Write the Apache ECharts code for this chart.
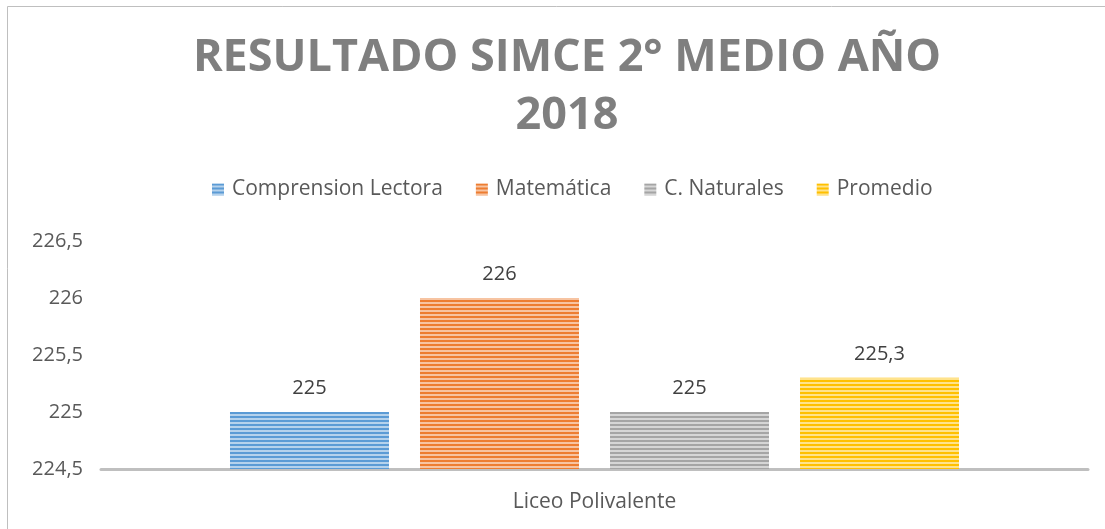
<!DOCTYPE html>
<html>
<head>
<meta charset="utf-8">
<script src="https://cdn.jsdelivr.net/npm/echarts@6/dist/echarts.min.js"></script>
<style>
  html, body { margin: 0; padding: 0; background: #fff; }
  #chart { width: 1105px; height: 529px; }
</style>
</head>
<body>
<div id="chart"></div>
<script>
// datos del grafico
var categories = ["Liceo Polivalente"];
var seriesNames = ["Comprension Lectora", "Matemática", "C. Naturales", "Promedio"];
var seriesValues = [[225], [226], [225], [225.3]];
var seriesColors = ["#5b9bd5", "#ed7d31", "#a5a5a5", "#ffc000"];
var yTicks = [224.5, 225, 225.5, 226, 226.5];

// rayado horizontal de las barras
function stripes(color) {
  var c = document.createElement("canvas");
  c.width = 4;
  c.height = 4;
  var ctx = c.getContext("2d");
  ctx.fillStyle = "#ffffff";
  ctx.fillRect(0, 0, 4, 4);
  ctx.fillStyle = color;
  ctx.globalAlpha = 0.45;
  ctx.fillRect(0, 2, 4, 2);
  ctx.globalAlpha = 1;
  ctx.fillRect(0, 0, 4, 2);
  return { image: c, repeat: "repeat" };
}

function fmt(v) {
  return String(v).replace(".", ",");
}

var chart = echarts.init(document.getElementById("chart"));

var series = seriesNames.map(function (name, i) {
  return {
    name: name,
    type: "bar",
    barWidth: 159,
    barGap: "19.5%",
    data: seriesValues[i],
    itemStyle: { color: stripes(seriesColors[i]) },
    label: {
      show: true,
      position: "top",
      distance: 14,
      color: "#404040",
      fontSize: 20,
      fontFamily: "Open Sans",
      formatter: function (p) { return fmt(p.value); }
    }
  };
});

chart.setOption({
  animation: false,
  title: {
    text: "RESULTADO SIMCE 2° MEDIO AÑO\n2018",
    left: 562,
    top: 24,
    textAlign: "center",
    textStyle: {
      fontFamily: "Open Sans",
      fontWeight: "bold",
      fontSize: 45,
      lineHeight: 58,
      color: "#7f7f7f"
    }
  },
  legend: {
    top: 174,
    left: 207,
    itemWidth: 12,
    itemHeight: 12,
    itemGap: 33,
    icon: "rect",
    textStyle: {
      fontFamily: "Open Sans",
      fontSize: 21,
      color: "#595959",
      padding: [0, 0, 0, 3]
    }
  },
  graphic: [{
    type: "rect",
    shape: { x: 7.5, y: 6.5, width: 1200, height: 600 },
    style: { fill: null, stroke: "#bfbfbf", lineWidth: 1 },
    silent: true
  }],
  grid: { left: 101, right: 17, top: 241, bottom: 60 },
  xAxis: {
    type: "category",
    data: categories,
    axisLine: { lineStyle: { color: "#bfbfbf", width: 3 } },
    axisTick: { show: false },
    axisLabel: { fontFamily: "Open Sans", fontSize: 21, color: "#595959", margin: 23 }
  },
  yAxis: {
    type: "value",
    min: yTicks[0],
    max: yTicks[yTicks.length - 1],
    interval: 0.5,
    axisLine: { show: false },
    axisTick: { show: false },
    splitLine: { show: false },
    axisLabel: { fontFamily: "Open Sans", fontSize: 20, color: "#595959", margin: 18, formatter: fmt }
  },
  series: series
});
</script>
</body>
</html>
